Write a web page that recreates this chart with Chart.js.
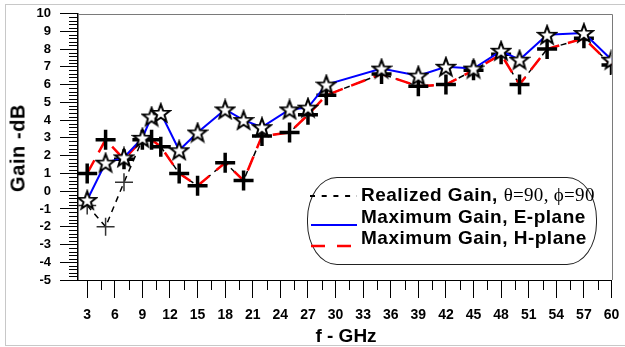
<!DOCTYPE html>
<html>
<head>
<meta charset="utf-8">
<script src="https://cdn.jsdelivr.net/npm/chart.js@4.4.1/dist/chart.umd.min.js"></script>
<style>
    html, body { margin: 0; padding: 0; background: #fff; }
    body { width: 625px; height: 347px; position: relative; overflow: hidden; font-family: "Liberation Sans", Arial, sans-serif; }
    #frame { position: absolute; left: 5px; top: 4px; width: 660px; height: 340px; border: 1px solid #c8c8c8; }
    #gainChart { position: absolute; left: 0; top: 0; }
    .title { position: absolute; font-weight: bold; font-size: 19px; color: #000; white-space: nowrap; }
    #ytitle { left: 18px; top: 148px; font-size: 20px; letter-spacing: 0.6px; transform: translate(-50%, -50%) rotate(-90deg); }
    #xtitle { left: 346px; top: 336px; transform: translate(-50%, -50%); }
    #legendBox { position: absolute; left: 307px; top: 177px; width: 290px; height: 88px; box-sizing: border-box; border: 1px solid #222; border-radius: 30px / 42px; background: #fff; }
    .legRow { position: absolute; left: 361px; font-weight: bold; font-size: 19px; letter-spacing: 0.5px; line-height: 20px; white-space: nowrap; color: #000; }
    .legRow .greek { font-family: "Liberation Serif", "Times New Roman", serif; font-weight: normal; letter-spacing: 0.3px; }
    #legSamples { position: absolute; left: 305px; top: 180px; }
</style>
</head>
<body>
<div id="frame"></div>
<canvas id="gainChart" width="625" height="347"></canvas>
<div class="title" id="ytitle">Gain -dB</div>
<div class="title" id="xtitle">f - GHz</div>
<div id="legendBox"></div>
<svg id="legSamples" width="56" height="75">
    <line x1="5" y1="16" x2="52" y2="16" stroke="#000" stroke-width="2" stroke-dasharray="5,6.7"></line>
    <line x1="6" y1="45" x2="52" y2="45" stroke="#0000ff" stroke-width="2"></line>
    <line x1="6" y1="66" x2="52" y2="66" stroke="#ff0000" stroke-width="2.5" stroke-dasharray="14,12"></line>
</svg>
<div class="legRow" style="top:185px">Realized Gain, <span class="greek">&theta;=90, &#981;=90</span></div>
<div class="legRow" style="top:207px">Maximum Gain, E-plane</div>
<div class="legRow" style="top:228px">Maximum Gain, H-plane</div>

<script>
// frequencies (GHz) and gains (dB)
const freqs    = [3, 5, 7, 9, 10, 11, 13, 15, 18, 20, 22, 25, 27, 29, 35, 39, 42, 45, 48, 50, 53, 57, 60];
const realized = [-0.8, -2.0, 0.5, 2.9, 2.9, 2.5, 1.0, 0.3, 1.6, 0.6, 3.1, 3.3, 4.3, 5.4, 6.6, 5.9, 6.0, 6.8, 7.7, 6.0, 8.0, 8.6, 7.1];
const ePlane   = [-0.5, 1.6, 1.9, 3.0, 4.2, 4.4, 2.3, 3.3, 4.6, 4.0, 3.6, 4.6, 4.7, 6.0, 6.9, 6.5, 7.0, 6.9, 7.9, 7.4, 8.8, 8.9, 7.4];
const hPlane   = [1.0, 2.9, 1.8, 2.9, 2.9, 2.5, 1.0, 0.3, 1.6, 0.6, 3.1, 3.3, 4.3, 5.4, 6.6, 5.9, 6.0, 6.8, 7.7, 6.0, 8.0, 8.6, 7.1];

// axis ranges
const xMin = 2, xMax = 60, xStep = 3, xMinorStep = 1.5;
const yMin = -5, yMax = 10, yStep = 1, yMinorStep = 0.2;

const FONT = '"Liberation Sans", Arial, sans-serif';

function toPoints(vals) {
    return freqs.map((f, i) => ({ x: f, y: vals[i] }));
}

// open star marker
function makeStar() {
    const c = document.createElement('canvas');
    c.width = 22; c.height = 22;
    const g = c.getContext('2d');
    g.beginPath();
    for (let i = 0; i < 10; i++) {
        const r = i % 2 ? 3.9 : 9.5;
        const a = -Math.PI / 2 + i * Math.PI / 5;
        g.lineTo(11 + r * Math.cos(a), 11.8 + r * Math.sin(a));
    }
    g.closePath();
    g.fillStyle = '#fff';
    g.fill();
    g.lineWidth = 2;
    g.lineJoin = 'miter';
    g.strokeStyle = '#000';
    g.stroke();
    return c;
}

// minor ticks and the grey top/right frame of the plot
const axisExtras = {
    id: 'axisExtras',
    afterDraw(chart) {
        const { ctx, chartArea: a, scales: { x, y } } = chart;
        ctx.save();
        ctx.strokeStyle = '#000';
        ctx.lineWidth = 1;
        ctx.beginPath();
        const nY = Math.round((yMax - yMin) / yMinorStep);
        for (let i = 0; i <= nY; i++) {
            if (i % Math.round(yStep / yMinorStep) === 0) continue;
            const py = Math.round(y.getPixelForValue(yMin + i * yMinorStep)) + 0.5;
            ctx.moveTo(a.left - 9, py);
            ctx.lineTo(a.left, py);
        }
        for (let v = xStep - xMinorStep; v < xMax; v += xStep) {
            if (v < xMin) continue;
            const px = Math.round(x.getPixelForValue(v)) + 0.5;
            ctx.moveTo(px, a.bottom);
            ctx.lineTo(px, a.bottom + 10);
        }
        ctx.stroke();

        ctx.strokeStyle = '#7a7a7a';
        ctx.beginPath();
        ctx.moveTo(a.left, Math.round(a.top) + 0.5);
        ctx.lineTo(Math.round(a.right) + 0.5, Math.round(a.top) + 0.5);
        ctx.lineTo(Math.round(a.right) + 0.5, a.bottom);
        ctx.stroke();
        ctx.restore();
    }
};

document.addEventListener('DOMContentLoaded', () => {
    const star = makeStar();

    new Chart(document.getElementById('gainChart'), {
        type: 'line',
        data: {
            datasets: [{
                label: 'Maximum Gain, E-plane',
                data: toPoints(ePlane),
                borderColor: '#0000ff',
                borderWidth: 2,
                pointStyle: star,
                order: 0
            }, {
                label: 'Maximum Gain, H-plane',
                data: toPoints(hPlane),
                borderColor: '#ff0000',
                borderWidth: 2.5,
                borderDash: [15, 9],
                pointStyle: 'cross',
                pointRadius: 10,
                pointBorderWidth: 3.5,
                pointBorderColor: '#000',
                order: 1
            }, {
                label: 'Realized Gain',
                data: toPoints(realized),
                borderColor: '#000',
                borderWidth: 1.5,
                borderDash: [6, 5],
                pointStyle: 'cross',
                pointRadius: 9,
                pointBorderWidth: 1.5,
                pointBorderColor: '#333',
                order: 2
            }]
        },
        options: {
            responsive: false,
            devicePixelRatio: 1,
            animation: false,
            events: [],
            layout: { padding: { top: 13, right: 7, bottom: 0, left: 0 } },
            elements: { line: { tension: 0 } },
            plugins: { legend: { display: false }, tooltip: { enabled: false } },
            scales: {
                x: {
                    type: 'linear',
                    min: xMin,
                    max: xMax,
                    ticks: {
                        stepSize: xStep,
                        includeBounds: false,
                        autoSkip: false,
                        maxRotation: 0,
                        padding: 9,
                        color: '#000',
                        font: { family: FONT, size: 14, weight: 'bold' }
                    },
                    grid: { drawOnChartArea: false, tickLength: 18, color: '#000' },
                    border: { display: true, color: '#000' },
                    afterFit(s) { s.height = 67; s.paddingLeft = 0; s.paddingRight = 0; }
                },
                y: {
                    min: yMin,
                    max: yMax,
                    ticks: {
                        stepSize: yStep,
                        autoSkip: false,
                        padding: 9,
                        color: '#000',
                        font: { family: FONT, size: 13, weight: 'bold' }
                    },
                    grid: { drawOnChartArea: false, tickLength: 18, color: '#000' },
                    border: { display: true, color: '#000', width: 1.5 },
                    afterFit(s) { s.width = 78; s.paddingTop = 0; s.paddingBottom = 0; }
                }
            }
        },
        plugins: [axisExtras]
    });
});
</script>
</body>
</html>
